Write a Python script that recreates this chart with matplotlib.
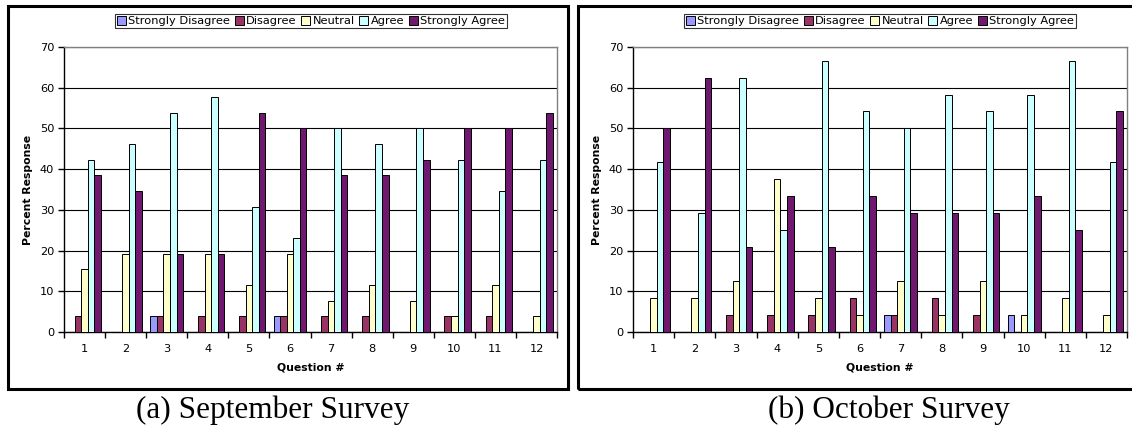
import matplotlib.pyplot as plt
import matplotlib.patches as mpatches
import numpy as np

### Survey data (percent of respondents per answer) ###
questions = [str(q) for q in range(1, 13)]
answers = ["Strongly Disagree", "Disagree", "Neutral", "Agree", "Strongly Agree"]
colors = ["#9999FF", "#993366", "#FFFFCC", "#CCFFFF", "#701870"]

sep_sd = [0, 0, 3.85, 0, 0, 3.85, 0, 0, 0, 0, 0, 0]
sep_d = [3.85, 0, 3.85, 3.85, 3.85, 3.85, 3.85, 3.85, 0, 3.85, 3.85, 0]
sep_n = [15.38, 19.23, 19.23, 19.23, 11.54, 19.23, 7.69, 11.54, 7.69, 3.85, 11.54, 3.85]
sep_a = [42.31, 46.15, 53.85, 57.69, 30.77, 23.08, 50.0, 46.15, 50.0, 42.31, 34.62, 42.31]
sep_sa = [38.46, 34.62, 19.23, 19.23, 53.85, 50.0, 38.46, 38.46, 42.31, 50.0, 50.0, 53.85]

oct_sd = [0, 0, 0, 0, 0, 0, 4.17, 0, 0, 4.17, 0, 0]
oct_d = [0, 0, 4.17, 4.17, 4.17, 8.33, 4.17, 8.33, 4.17, 0, 0, 0]
oct_n = [8.33, 8.33, 12.5, 37.5, 8.33, 4.17, 12.5, 4.17, 12.5, 4.17, 8.33, 4.17]
oct_a = [41.67, 29.17, 62.5, 25.0, 66.67, 54.17, 50.0, 58.33, 54.17, 58.33, 66.67, 41.67]
oct_sa = [50.0, 62.5, 20.83, 33.33, 20.83, 33.33, 29.17, 29.17, 29.17, 33.33, 25.0, 54.17]

surveys = [
    ([sep_sd, sep_d, sep_n, sep_a, sep_sa], "(a) September Survey"),
    ([oct_sd, oct_d, oct_n, oct_a, oct_sa], "(b) October Survey"),
]

W, H = 1132, 429
fig = plt.figure(figsize=(W / 100, H / 100), dpi=100)

# pixel layout: axes left/right, frame left/right, legend centre x, caption centre x
panels = [(64, 557, 8, 568, 311, 273), (633, 1127, 578, 1140, 880, 889)]
ax_top, ax_bot = 47, 332
box_top, box_bot = 6, 389

x = np.arange(len(questions))
bw = 0.16

for (series, caption), (al, ar, bl, br, lx, cx) in zip(surveys, panels):
    # black frame around each chart
    fig.patches.append(mpatches.Rectangle((bl / W, 1 - box_bot / H), (br - bl) / W, (box_bot - box_top) / H,
                                          transform=fig.transFigure, fill=False, edgecolor='black',
                                          linewidth=2.2, zorder=0))
    ax = fig.add_axes([al / W, 1 - ax_bot / H, (ar - al) / W, (ax_bot - ax_top) / H])
    handles = []
    for k in range(len(answers)):
        b = ax.bar(x + (k - 2) * bw, series[k], bw, color=colors[k], edgecolor='black',
                   linewidth=0.7, label=answers[k], zorder=3)
        handles.append(b)

    ax.set_ylim(0, 70)
    ax.set_xlim(-0.5, len(questions) - 0.5)
    ax.set_yticks(range(0, 71, 10))
    ax.yaxis.grid(True, color='black', linewidth=0.8, zorder=1)
    ax.set_axisbelow(True)
    ax.set_xticks(np.arange(-0.5, len(questions), 1))
    ax.set_xticklabels([])
    ax.set_xticks(x, minor=True)
    ax.set_xticklabels(questions, minor=True)
    ax.tick_params(axis='x', which='minor', length=0, pad=9, labelsize=8.2)
    ax.tick_params(axis='x', which='major', length=4, width=1, direction='out')
    ax.tick_params(axis='y', length=4, width=1, labelsize=8.2, pad=3)
    for s in ['top', 'right']:
        ax.spines[s].set_color('#808080')
        ax.spines[s].set_linewidth(1)
    for s in ['left', 'bottom']:
        ax.spines[s].set_linewidth(1)
    ax.set_ylabel('Percent Response', fontsize=7.8, fontweight='bold', labelpad=5)
    ax.set_xlabel('Question #', fontsize=7.8, fontweight='bold', labelpad=6)

    leg = ax.legend(handles=handles, loc='center', bbox_to_anchor=(lx / W, 1 - 21 / H),
                    bbox_transform=fig.transFigure, ncol=5, fontsize=8.2, frameon=True, fancybox=False,
                    handlelength=0.8, handleheight=0.8, handletextpad=0.2, columnspacing=0.4,
                    borderpad=0.2, borderaxespad=0)
    leg.get_frame().set_edgecolor('black')
    leg.get_frame().set_linewidth(0.8)

    fig.text(cx / W, 1 - 410 / H, caption, family='Liberation Serif', fontsize=22.5,
             ha='center', va='center')

fig.savefig('out.png', dpi=100)
